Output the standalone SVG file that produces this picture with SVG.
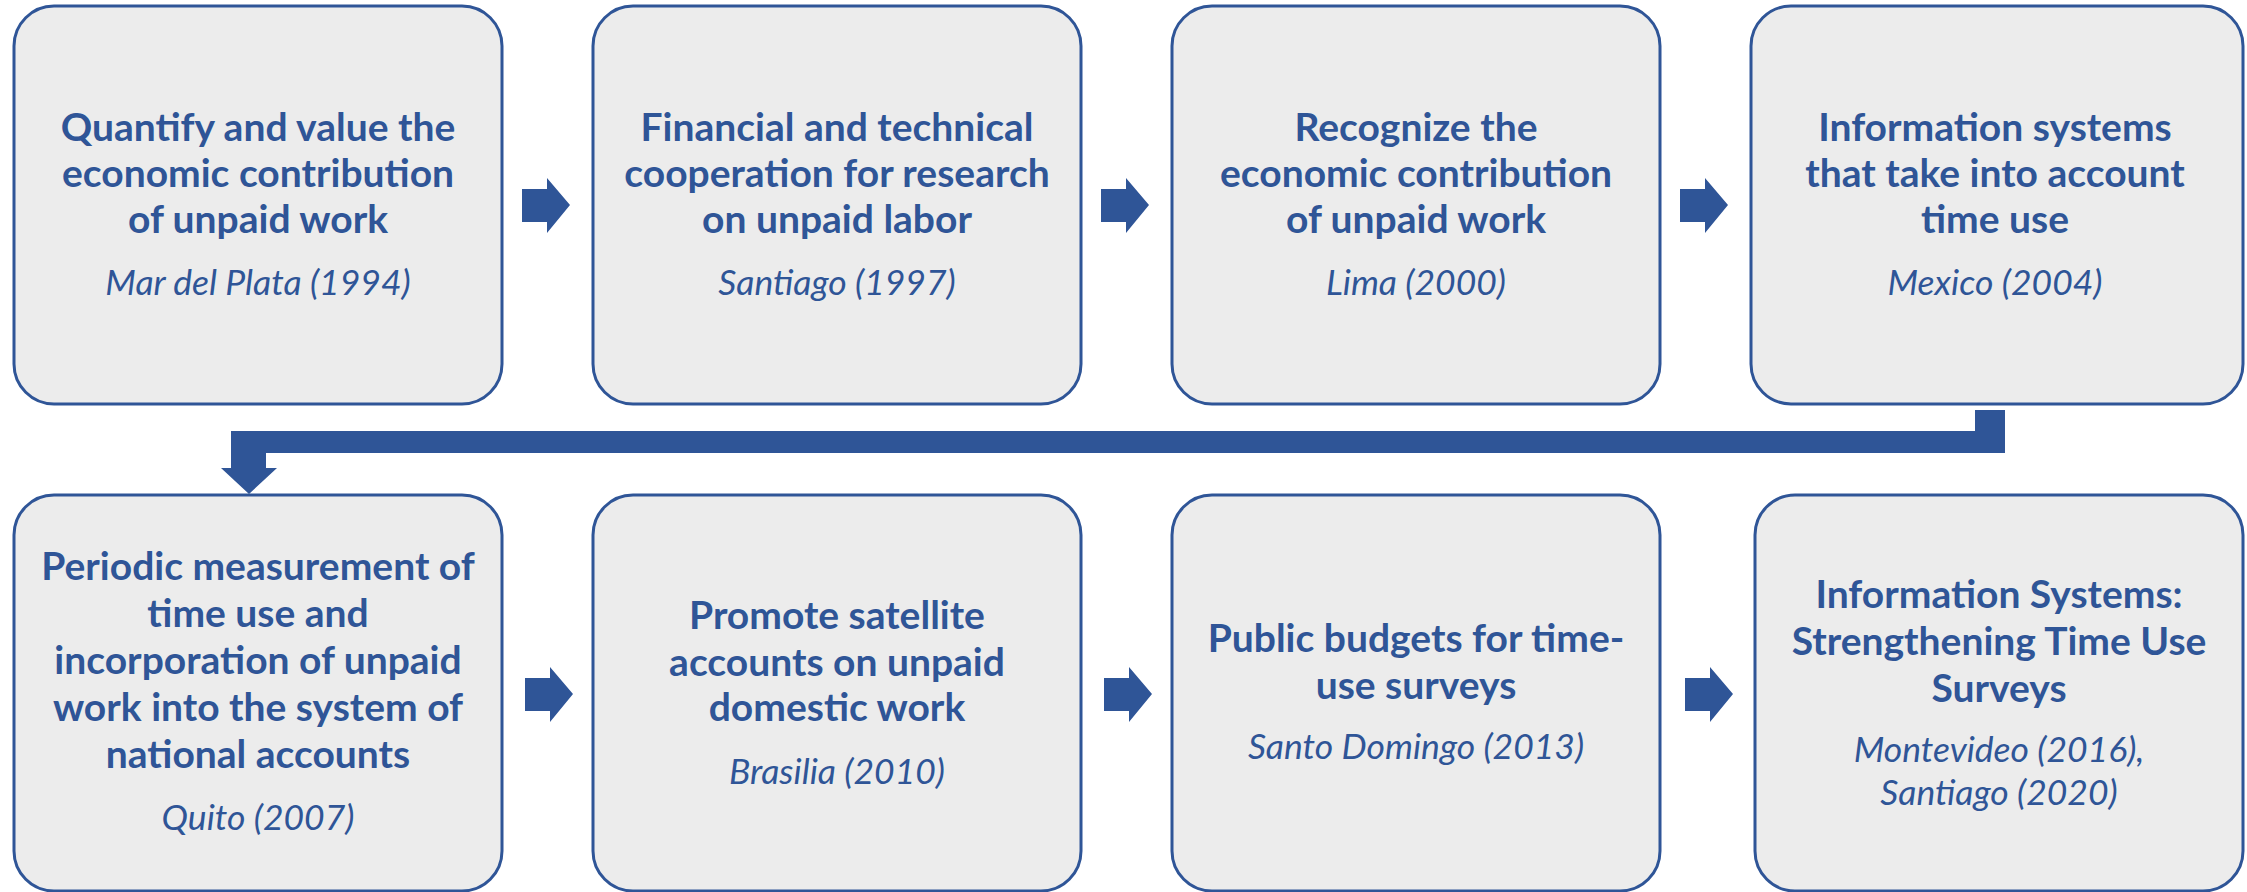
<svg xmlns="http://www.w3.org/2000/svg" width="2247" height="892" viewBox="0 0 2247 892">
<style>
.box{fill:#ECECEC;stroke:#2F5597;stroke-width:3}
.t{font-family:Lato,"Liberation Sans",sans-serif;font-weight:bold;font-size:39px;fill:#2F5597;text-anchor:middle}
.s{font-family:Lato,"Liberation Sans",sans-serif;font-style:italic;font-size:35.5px;fill:#2F5597;text-anchor:middle}
.arr{fill:#2F5597}
</style>
<rect width="2247" height="892" fill="#FFFFFF"/>
<g id="n1"><rect class="box" x="14" y="6" width="488" height="398" rx="40"/>
<text class="t" x="258" y="141">Quantify and value the</text>
<text class="t" x="258" y="187">economic contribution</text>
<text class="t" x="258" y="233">of unpaid work</text>
<text class="s" x="258" y="295">Mar del Plata (1994)</text></g>
<g id="n2"><rect class="box" x="593" y="6" width="488" height="398" rx="40"/>
<text class="t" x="837" y="141">Financial and technical</text>
<text class="t" x="837" y="187">cooperation for research</text>
<text class="t" x="837" y="233">on unpaid labor</text>
<text class="s" x="837" y="295">Santiago (1997)</text></g>
<g id="n3"><rect class="box" x="1172" y="6" width="488" height="398" rx="40"/>
<text class="t" x="1416" y="141">Recognize the</text>
<text class="t" x="1416" y="187">economic contribution</text>
<text class="t" x="1416" y="233">of unpaid work</text>
<text class="s" x="1416" y="295">Lima (2000)</text></g>
<g id="n4"><rect class="box" x="1751" y="6" width="492" height="398" rx="40"/>
<text class="t" x="1995" y="141">Information systems</text>
<text class="t" x="1995" y="187">that take into account</text>
<text class="t" x="1995" y="233">time use</text>
<text class="s" x="1995" y="295">Mexico (2004)</text></g>
<g id="n5"><rect class="box" x="14" y="495" width="488" height="396" rx="40"/>
<text class="t" x="258" y="580">Periodic measurement of</text>
<text class="t" x="258" y="627">time use and</text>
<text class="t" x="258" y="674">incorporation of unpaid</text>
<text class="t" x="258" y="721">work into the system of</text>
<text class="t" x="258" y="768">national accounts</text>
<text class="s" x="258" y="830">Quito (2007)</text></g>
<g id="n6"><rect class="box" x="593" y="495" width="488" height="396" rx="40"/>
<text class="t" x="837" y="629">Promote satellite</text>
<text class="t" x="837" y="676">accounts on unpaid</text>
<text class="t" x="837" y="721">domestic work</text>
<text class="s" x="837" y="784">Brasilia (2010)</text></g>
<g id="n7"><rect class="box" x="1172" y="495" width="488" height="396" rx="40"/>
<text class="t" x="1416" y="652">Public budgets for time-</text>
<text class="t" x="1416" y="699">use surveys</text>
<text class="s" x="1416" y="759">Santo Domingo (2013)</text></g>
<g id="n8"><rect class="box" x="1755" y="495" width="488" height="396" rx="40"/>
<text class="t" x="1999" y="608">Information Systems:</text>
<text class="t" x="1999" y="655">Strengthening Time Use</text>
<text class="t" x="1999" y="702">Surveys</text>
<text class="s" x="1999" y="762">Montevideo (2016),</text>
<text class="s" x="1999" y="805">Santiago (2020)</text></g>
<g id="connectors">
<polygon class="arr" points="522,189 547,189 547,178 570,205 547,233 547,222 522,222"/>
<polygon class="arr" points="1101,189 1126,189 1126,178 1149,205 1126,233 1126,222 1101,222"/>
<polygon class="arr" points="1680,189 1705,189 1705,178 1728,205 1705,233 1705,222 1680,222"/>
<polygon class="arr" points="525,678 550,678 550,667 573,694 550,722 550,711 525,711"/>
<polygon class="arr" points="1104,678 1129,678 1129,667 1152,694 1129,722 1129,711 1104,711"/>
<polygon class="arr" points="1685,678 1710,678 1710,667 1733,694 1710,722 1710,711 1685,711"/>
<polygon class="arr" points="2005,410 2005,453 266,453 266,468 277,468 249,494 221,468 231,468 231,431 1975,431 1975,410"/>
</g>
</svg>
